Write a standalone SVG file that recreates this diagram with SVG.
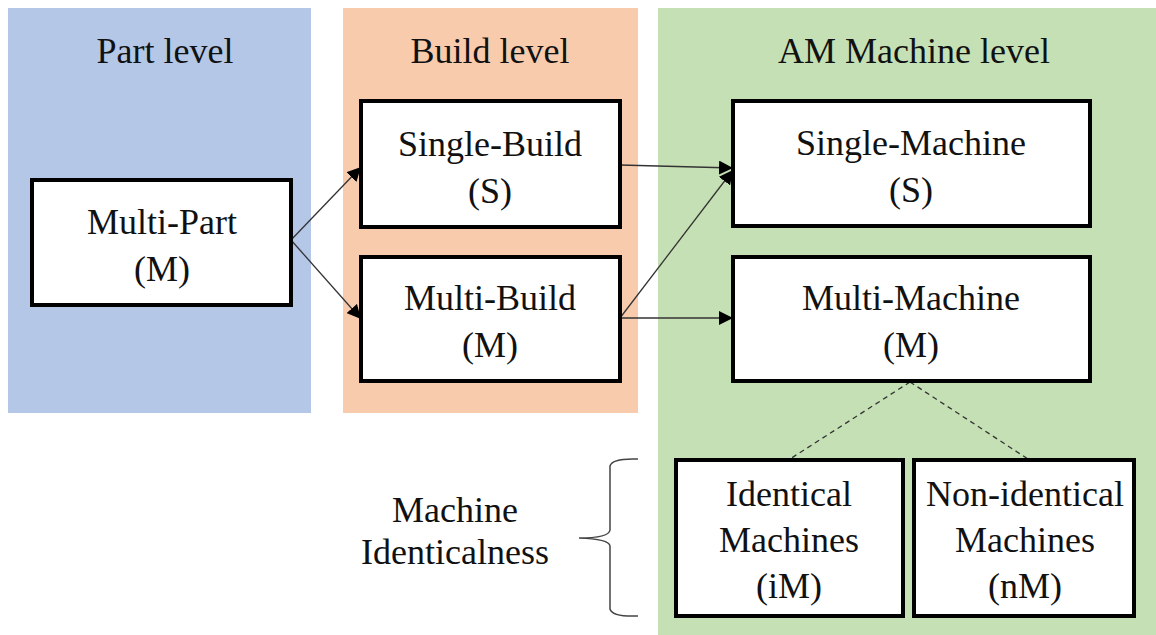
<svg xmlns="http://www.w3.org/2000/svg" width="1156" height="635" viewBox="0 0 1156 635">
<style>
.t{font-family:"Liberation Serif","Times New Roman",serif;font-size:36px;fill:#111;text-anchor:middle}
.box{fill:#fff;stroke:#000;stroke-width:4}
.c{stroke:#333;stroke-width:1.3;fill:none}
.d{stroke:#333;stroke-width:1.3;stroke-dasharray:5 4;fill:none}
</style>
<defs>
<marker id="ah" viewBox="0 0 10 10" refX="10" refY="5" markerWidth="14" markerHeight="14" markerUnits="userSpaceOnUse" orient="auto">
<path d="M0,0 L10,5 L0,10 z" fill="#000"/>
</marker>
</defs>
<rect width="1156" height="635" fill="#fff"/>
<g id="panels">
<rect x="8" y="8" width="303" height="405" fill="#B4C7E7"/>
<rect x="343" y="8" width="295" height="405" fill="#F8CBAD"/>
<rect x="658" y="8" width="498" height="627" fill="#C5E0B4"/>
<text class="t" x="165" y="63">Part level</text>
<text class="t" x="490" y="63">Build level</text>
<text class="t" x="914" y="63">AM Machine level</text>
</g>
<g id="connectors">
<line class="c" x1="291" y1="240" x2="361" y2="167" marker-end="url(#ah)"/>
<line class="c" x1="291" y1="240" x2="361" y2="319" marker-end="url(#ah)"/>
<line class="c" x1="620" y1="165" x2="733" y2="168" marker-end="url(#ah)"/>
<line class="c" x1="620" y1="318" x2="733" y2="170" marker-end="url(#ah)"/>
<line class="c" x1="620" y1="318" x2="733" y2="318" marker-end="url(#ah)"/>
<line class="d" x1="910" y1="382" x2="790" y2="459"/>
<line class="d" x1="910" y1="382" x2="1028" y2="459"/>
</g>
<g id="multi-part">
<rect class="box" x="32" y="180" width="259" height="125"/>
<text class="t" x="162" y="234">Multi-Part</text>
<text class="t" x="162" y="281">(M)</text>
</g>
<g id="single-build">
<rect class="box" x="361" y="101" width="259" height="126"/>
<text class="t" x="490" y="156">Single-Build</text>
<text class="t" x="490" y="203">(S)</text>
</g>
<g id="multi-build">
<rect class="box" x="361" y="257" width="259" height="124"/>
<text class="t" x="490" y="310">Multi-Build</text>
<text class="t" x="490" y="357">(M)</text>
</g>
<g id="single-machine">
<rect class="box" x="733" y="101" width="357" height="125"/>
<text class="t" x="911" y="155">Single-Machine</text>
<text class="t" x="911" y="202">(S)</text>
</g>
<g id="multi-machine">
<rect class="box" x="733" y="257" width="357" height="124"/>
<text class="t" x="911" y="310">Multi-Machine</text>
<text class="t" x="911" y="357">(M)</text>
</g>
<g id="identical">
<rect class="box" x="676" y="460" width="227" height="156"/>
<text class="t" x="789" y="506">Identical</text>
<text class="t" x="789" y="552">Machines</text>
<text class="t" x="789" y="598">(iM)</text>
</g>
<g id="non-identical">
<rect class="box" x="914" y="460" width="220" height="156"/>
<text class="t" x="1025" y="506">Non-identical</text>
<text class="t" x="1025" y="552">Machines</text>
<text class="t" x="1025" y="598">(nM)</text>
</g>
<g id="identicalness">
<path d="M638,459 Q612,458 610,466 L610,530 Q609,538 579,538 Q609,539 610,546 L610,609 Q612,617 638,616" fill="none" stroke="#444" stroke-width="1.5"/>
<text class="t" x="455" y="522">Machine</text>
<text class="t" x="455" y="564">Identicalness</text>
</g>
</svg>
